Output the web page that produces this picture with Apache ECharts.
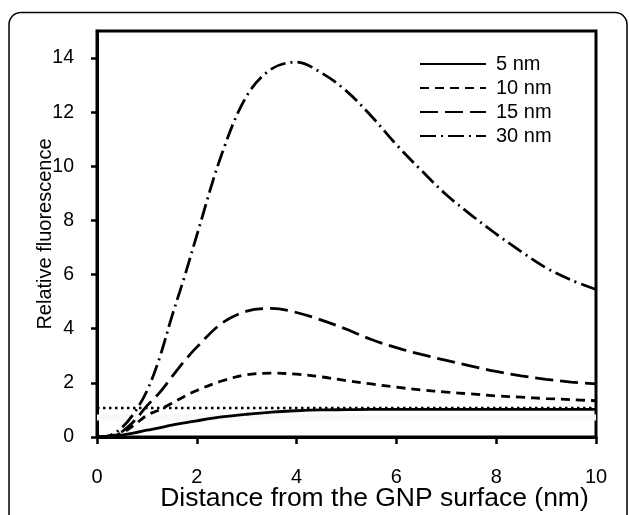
<!DOCTYPE html>
<html>
<head>
<meta charset="utf-8">
<script src="https://cdn.jsdelivr.net/npm/echarts@6/dist/echarts.min.js"></script>
<style>
html,body{margin:0;padding:0;background:#fff;}
#chart{width:629px;height:515px;}
</style>
</head>
<body>
<div id="chart"></div>
<script>
// distance from the GNP surface (nm)
const xValues = [0, 0.25, 0.5, 0.75, 1, 1.25, 1.5, 1.75, 2, 2.5, 3, 3.5, 4, 4.5, 5, 5.5, 6, 6.5, 7, 7.5, 8, 8.5, 9, 9.5, 10];
const s5nm  = [0, 0.02, 0.07, 0.15, 0.25, 0.34, 0.44, 0.52, 0.60, 0.74, 0.84, 0.92, 0.97, 1.00, 1.01, 1.02, 1.02, 1.02, 1.02, 1.02, 1.02, 1.02, 1.02, 1.02, 1.02];
const s10nm = [0, 0.02, 0.15, 0.45, 0.80, 1.00, 1.25, 1.50, 1.72, 2.07, 2.30, 2.36, 2.32, 2.22, 2.08, 1.96, 1.84, 1.74, 1.66, 1.59, 1.52, 1.47, 1.42, 1.38, 1.34];
const s15nm = [0, 0.03, 0.20, 0.60, 1.15, 1.63, 2.22, 2.80, 3.32, 4.20, 4.65, 4.75, 4.60, 4.32, 3.98, 3.60, 3.30, 3.05, 2.83, 2.62, 2.42, 2.26, 2.13, 2.03, 1.96];
const s30nm = [0, 0.05, 0.35, 0.90, 1.70, 2.90, 4.45, 5.90, 7.45, 10.45, 12.60, 13.60, 13.85, 13.45, 12.78, 11.85, 10.80, 9.85, 8.95, 8.20, 7.50, 6.85, 6.25, 5.80, 5.45];
const refX = [0, 10];
const refLevel = [1.07, 1.07];
const bandLevel = [0.72, 0.72];
const seriesNames = ['5 nm', '10 nm', '15 nm', '30 nm'];
const xTicks = [0, 2, 4, 6, 8, 10];
const yTicks = [0, 2, 4, 6, 8, 10, 12, 14];

const pairs = (xs, ys) => xs.map((x, i) => [x, ys[i]]);
const dashes = [null, [9, 6], [18, 7], [16, 5, 2, 5]];
const allSeries = [s5nm, s10nm, s15nm, s30nm];

const chart = echarts.init(document.getElementById('chart'), null, {renderer: 'canvas'});
const font = '"Liberation Sans", Arial, sans-serif';

const series = allSeries.map((d, i) => ({
  name: seriesNames[i],
  type: 'line',
  data: pairs(xValues, d),
  smooth: 0.35,
  symbol: 'none',
  z: 5,
  itemStyle: {color: '#000'},
  lineStyle: {color: '#000', width: 2.8, type: dashes[i] || 'solid'}
}));
series.unshift({
  name: 'band', type: 'line', data: pairs(refX, bandLevel), symbol: 'none', silent: true, z: 1,
  lineStyle: {color: '#f9f9f9', width: 6}
});
series.unshift({
  name: 'ref', type: 'line', data: pairs(refX, refLevel), symbol: 'none', silent: true, z: 2,
  lineStyle: {color: '#000', width: 2.5, type: [2.5, 3.5]}
});

chart.setOption({
  animation: false,
  backgroundColor: '#fff',
  graphic: [{
    type: 'rect', shape: {x: 9, y: 12.5, width: 618, height: 600, r: 12},
    style: {fill: 'none', stroke: '#000', lineWidth: 1.5}, z: 0
  }],
  grid: {left: 97, right: 33, top: 31, bottom: 78, show: true, borderColor: '#000', borderWidth: 3,
         backgroundColor: 'transparent', containLabel: false, outerBoundsMode: 'none'},
  legend: {
    data: seriesNames, orient: 'vertical', left: 419, top: 54, padding: 0,
    itemWidth: 66, itemHeight: 14, itemGap: 4,
    itemStyle: {color: 'transparent', borderWidth: 0, opacity: 0},
    textStyle: {fontFamily: font, fontSize: 20, color: '#000', padding: [0, 0, 0, 5]}
  },
  xAxis: {
    type: 'value', min: 0, max: 10, interval: 2,
    name: 'Distance from the GNP surface (nm)', nameLocation: 'middle', nameGap: 48, nameMoveOverlap: false,
    nameTextStyle: {fontFamily: font, fontSize: 26.5, color: '#000', padding: [0, 0, 0, 56]},
    axisLine: {show: true, lineStyle: {color: '#000', width: 3}},
    axisTick: {show: true, inside: false, length: 7, lineStyle: {color: '#000', width: 2.5}, customValues: xTicks},
    axisLabel: {fontFamily: font, fontSize: 20, color: '#000', margin: 30, customValues: xTicks},
    splitLine: {show: false}
  },
  yAxis: {
    type: 'value', min: 0, max: 15, interval: 1,
    name: 'Relative fluorescence', nameLocation: 'middle', nameGap: 42, nameRotate: 90, nameMoveOverlap: false,
    nameTextStyle: {fontFamily: font, fontSize: 20, color: '#000'},
    axisLine: {show: true, lineStyle: {color: '#000', width: 3}},
    axisTick: {show: true, inside: false, length: 6, lineStyle: {color: '#000', width: 2.5}, customValues: yTicks},
    axisLabel: {fontFamily: font, fontSize: 19.5, color: '#000', margin: 23, customValues: yTicks},
    splitLine: {show: false}
  },
  series: series
});
</script>
</body>
</html>
